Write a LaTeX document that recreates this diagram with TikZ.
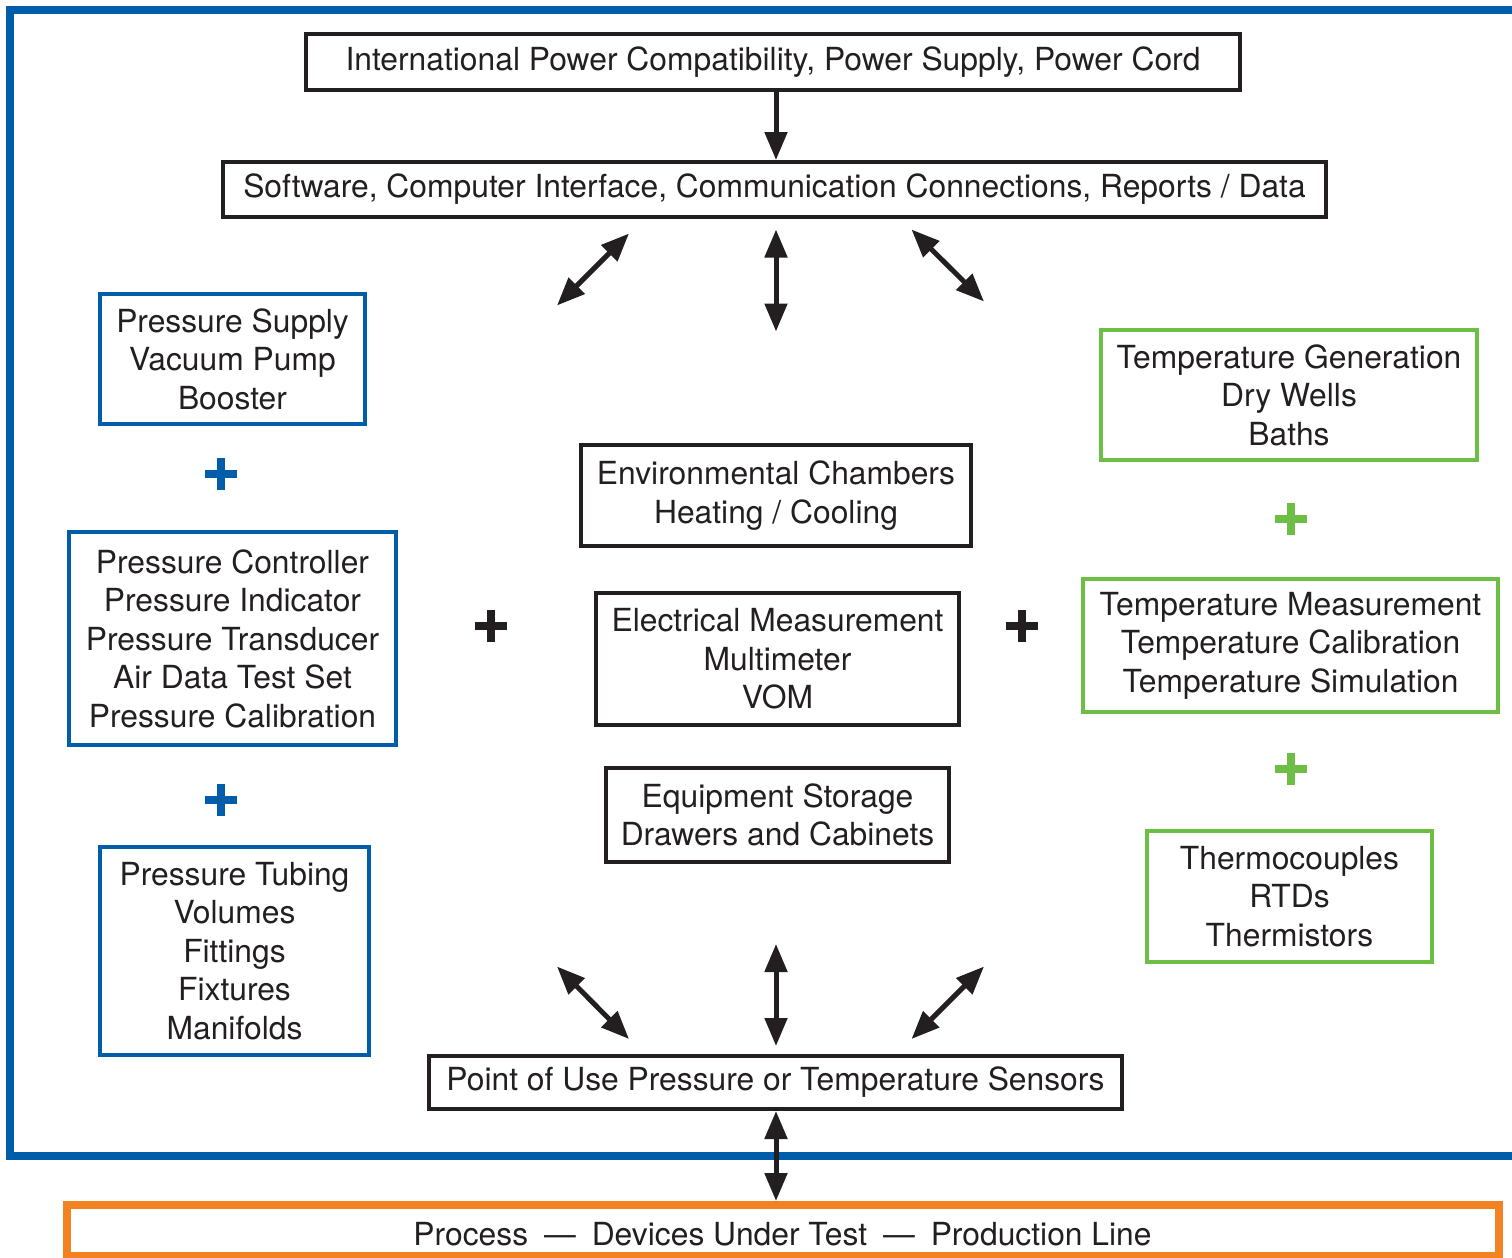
\documentclass[tikz,border=0pt]{standalone}
\usepackage{fontspec}
\setmainfont{TeX Gyre Heros}
\usetikzlibrary{arrows.meta,calc}
\definecolor{ink}{HTML}{231F20}
\definecolor{fblue}{HTML}{005DAA}
\definecolor{fgreen}{HTML}{6DBE45}
\definecolor{forange}{HTML}{F38222}
\tikzset{
  wh/.style 2 args={minimum width=#1*0.5pt, minimum height=#2*0.5pt},
  box/.style={draw=ink, line width=2pt, inner sep=0pt, align=center, text=ink,
    font=\fontsize{15.9}{19.25}\selectfont},
  bbox/.style={box, draw=fblue},
  gbox/.style={box, draw=fgreen},
  obox/.style={box, draw=forange, line width=4pt},
  txt/.style={inner sep=0pt, text=ink, font=\fontsize{15.9}{19.25}\selectfont},
  arr/.style={draw=ink, line width=2.5pt,
    {Triangle[length=14pt,width=11pt]}-{Triangle[length=14pt,width=11pt]}},
  arrone/.style={draw=ink, line width=2.5pt, -{Triangle[length=14pt,width=11pt]}},
  plussign/.pic={\draw[line width=4pt] (-16,0) -- (16,0) (0,-16) -- (0,16);},
}
\begin{document}
\begin{tikzpicture}[x=0.5pt,y=-0.5pt]
\useasboundingbox (0,0) rectangle (1512,1258);
\clip (0,0) rectangle (1512,1258);
% frame
\draw[fblue, line width=4pt] (9.5,10) rectangle (1540,1156);
% boxes
\node[box,wh={934}{56}] (pwr) at (773,62) {International Power Compatibility, Power Supply, Power Cord};
\node[box,wh={1103}{55}] (sw) at (774.5,189.5) {Software, Computer Interface, Communication Connections, Reports / Data};
\node[bbox,wh={265}{130}] (psup) at (232.5,359) {Pressure Supply\\Vacuum Pump\\Booster};
\node[bbox,wh={327}{213}] (pctl) at (232.5,638.5) {Pressure Controller\\Pressure Indicator\\Pressure Transducer\\Air Data Test Set\\Pressure Calibration};
\node[bbox,wh={269}{208}] (ptub) at (234.5,951) {Pressure Tubing\\Volumes\\Fittings\\Fixtures\\Manifolds};
\node[box,wh={390}{101}] (env) at (776,495.5) {Environmental Chambers\\Heating / Cooling};
\node[box,wh={363}{132}] (elec) at (777.5,659) {Electrical Measurement\\Multimeter\\VOM};
\node[box,wh={343}{94}] (stor) at (777.5,815) {Equipment Storage\\Drawers and Cabinets};
\node[gbox,wh={376}{130}] (tgen) at (1289,395) {Temperature Generation\\Dry Wells\\Baths};
\node[gbox,wh={415}{133}] (tmeas) at (1290.5,645.5) {Temperature Measurement\\Temperature Calibration\\Temperature Simulation};
\node[gbox,wh={285}{131}] (thermo) at (1289.5,896.5) {Thermocouples\\RTDs\\Thermistors};
\node[box,wh={693}{53}] (pou) at (775.5,1082.5) {Point of Use Pressure or Temperature Sensors};
\node[obox,wh={1432}{51}] (proc) at (783,1230.5) {};
\node[txt] (proctxt) at (782.5,1234) {Process\hspace{.5em}—\hspace{.5em}Devices Under Test\hspace{.5em}—\hspace{.5em}Production Line};
% plus signs
\pic[color=fblue] at (221,473.5) {plussign};
\pic[color=fblue] at (221,800) {plussign};
\pic[color=ink] at (491,625.5) {plussign};
\pic[color=ink] at (1022,626) {plussign};
\pic[color=fgreen] at (1291,519) {plussign};
\pic[color=fgreen] at (1291,769) {plussign};
% arrow end points
\coordinate (ax) at (776,0);
\coordinate (ula) at (629,233.5);
\coordinate (ulb) at (557,305.5);
\coordinate (uca) at (776,229.5);
\coordinate (ucb) at (776,331.5);
\coordinate (ura) at (911.5,229.5);
\coordinate (urb) at (984,301.5);
\coordinate (lla) at (557,966.5);
\coordinate (llb) at (629,1039);
\coordinate (lca) at (776,944);
\coordinate (lcb) at (776,1046);
\coordinate (lra) at (984,966.5);
\coordinate (lrb) at (911.5,1039);
% connectors
\draw[arrone] (pwr.south -| ax) -- (sw.north -| ax);
\draw[arr] (ula) -- (ulb);
\draw[arr] (uca) -- (ucb);
\draw[arr] (ura) -- (urb);
\draw[arr] (lla) -- (llb);
\draw[arr] (lca) -- (lcb);
\draw[arr] (lra) -- (lrb);
\draw[arr] (pou.south -| ax) -- (proc.north -| ax);
\end{tikzpicture}
\end{document}
